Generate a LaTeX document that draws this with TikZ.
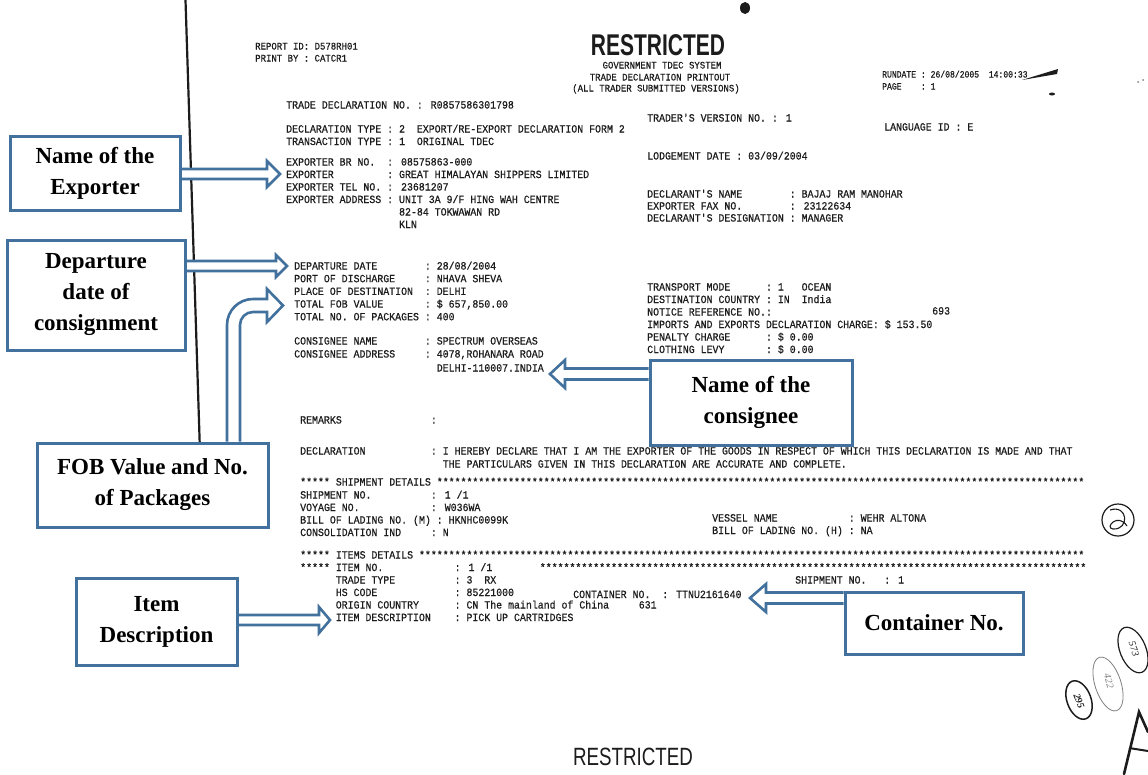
\documentclass[tikz,border=0pt]{standalone}
\usepackage{fontspec}
\setmainfont{Liberation Serif}
\newfontfamily\prtfont[FakeStretch=0.9,FakeBold=0.5]{Liberation Mono}
\newfontfamily\prtsmallfont[FakeStretch=0.85,FakeBold=0.5]{Liberation Mono}
\newfontfamily\hdrfont{Liberation Sans}
\usetikzlibrary{calc}
\definecolor{bluebox}{RGB}{65,113,156}
\definecolor{ink}{RGB}{28,28,28}
\def\tenstars{**********}
\newcommand\rarrow[5]{\draw[arr] let \p1=(#1), \p2=(#2) in ({\x1},{\y2+#5}) -- ({\x2-(#3)},{\y2+#5}) -- ({\x2-(#3)},{\y2+#4}) -- (\p2) -- ({\x2-(#3)},{\y2-#4}) -- ({\x2-(#3)},{\y2-#5}) -- ({\x1},{\y2-#5});}
\begin{document}
\begin{tikzpicture}[x=1pt,y=-1pt,
  prt/.style={anchor=west, inner sep=0pt, text height=7pt, text depth=2pt, font=\prtfont\fontsize{11}{12}\selectfont, text=ink},
  prtten/.style={prt, font=\prtfont\fontsize{10}{12}\selectfont},
  prtnine/.style={prt, font=\prtsmallfont\fontsize{9.5}{11}\selectfont},
  lbl/.style={draw=bluebox, line width=3pt, fill=white, align=center, text=black, font=\bfseries\fontsize{23}{31}\selectfont, inner sep=2pt},
  arr/.style={draw=bluebox, line width=2.6pt, fill=white, line join=miter, miter limit=10},
  hand/.style={inner sep=0pt, font=\itshape\fontsize{10}{10}\selectfont}]
\useasboundingbox (0,0) rectangle (1148,774);
\fill[white] (0,0) rectangle (1148,774);

% scanned page edge line
\draw[ink, line width=2.2pt] (185.5,0) -- (199.7,443);

% ---------- printout text ----------
\node[prtten] (rid) at (255,47) {REPORT ID: D578RH01};
\node[prtten] (pby) at (255,59) {PRINT BY : CATCR1};
\node[font=\hdrfont\bfseries\fontsize{30}{30}\selectfont, inner sep=0pt, text=ink] (rtop) at (658,45) {\scalebox{0.7}[1]{RESTRICTED}};
\node[prtten, anchor=center] (h1) at (662,66) {GOVERNMENT TDEC SYSTEM};
\node[prtten, anchor=center] (h2) at (660,78) {TRADE DECLARATION PRINTOUT};
\node[prtten, anchor=center] (h3) at (656,89) {(ALL TRADER SUBMITTED VERSIONS)};
\node[prtnine] (rd) at (882,75) {RUNDATE : 26/08/2005~~14:00:33};
\node[prtnine] (pg) at (882,87) {PAGE~~~~: 1};

\node[prt] (l1) at (286,106) {TRADE DECLARATION NO. : R0857586301798};
\node[prt] (l2) at (286,130) {DECLARATION TYPE : 2~~EXPORT/RE-EXPORT DECLARATION FORM 2};
\node[prt] (l3) at (286,142.5) {TRANSACTION TYPE : 1~~ORIGINAL TDEC};
\node[prt] (l4) at (286,163) {EXPORTER BR NO.~~: 08575863-000};
\node[prt] (l5) at (286,175.5) {EXPORTER~~~~~~~~~: GREAT HIMALAYAN SHIPPERS LIMITED};
\node[prt] (l6) at (286,188) {EXPORTER TEL NO. : 23681207};
\node[prt] (l7) at (286,200.5) {EXPORTER ADDRESS : UNIT 3A 9/F HING WAH CENTRE};
\node[prt] (l8) at (398.9,213) {82-84 TOKWAWAN RD};
\node[prt] (l9) at (398.9,225.5) {KLN};

\node[prt] (r1) at (647,119) {TRADER'S VERSION NO. : 1};
\node[prt] (r2) at (884,128) {LANGUAGE ID : E};
\node[prt] (r3) at (647,157) {LODGEMENT DATE : 03/09/2004};
\node[prt] (r4) at (647,195) {DECLARANT'S NAME~~~~~~~~: BAJAJ RAM MANOHAR};
\node[prt] (r5) at (647,207) {EXPORTER FAX NO.~~~~~~~~: 23122634};
\node[prt] (r6) at (647,219) {DECLARANT'S DESIGNATION : MANAGER};

\node[prt] (d1) at (294,267) {DEPARTURE DATE~~~~~~~~: 28/08/2004};
\node[prt] (d2) at (294,279.7) {PORT OF DISCHARGE~~~~~: NHAVA SHEVA};
\node[prt] (d3) at (294,292.4) {PLACE OF DESTINATION~~: DELHI};
\node[prt] (d4) at (294,305.1) {TOTAL FOB VALUE~~~~~~~: \$ 657,850.00};
\node[prt] (d5) at (294,317.8) {TOTAL NO. OF PACKAGES : 400};
\node[prt] (d6) at (294,342) {CONSIGNEE NAME~~~~~~~~: SPECTRUM OVERSEAS};
\node[prt] (d7) at (294,355) {CONSIGNEE ADDRESS~~~~~: 4078,ROHANARA ROAD};
\node[prt] (d8) at (436.6,369) {DELHI-110007.INDIA};

\node[prt] (m1) at (647,288) {TRANSPORT MODE~~~~~~: 1~~~OCEAN};
\node[prt] (m2) at (647,300.5) {DESTINATION COUNTRY : IN~~India};
\node[prt] (m3) at (647,313) {NOTICE REFERENCE NO.:};
\node[prt] (m4) at (932,312) {693};
\node[prt] (m5) at (647,325.5) {IMPORTS AND EXPORTS DECLARATION CHARGE: \$ 153.50};
\node[prt] (m6) at (647,338) {PENALTY CHARGE~~~~~~: \$ 0.00};
\node[prt] (m7) at (647,350.5) {CLOTHING LEVY~~~~~~~: \$ 0.00};

\node[prt] (k1) at (300,421) {REMARKS~~~~~~~~~~~~~~~:};
\node[prt] (k2) at (300,452) {DECLARATION~~~~~~~~~~~: I HEREBY DECLARE THAT I AM THE EXPORTER OF THE GOODS IN RESPECT OF WHICH THIS DECLARATION IS MADE AND THAT};
\node[prt] (k3) at (442.6,465) {THE PARTICULARS GIVEN IN THIS DECLARATION ARE ACCURATE AND COMPLETE.};

\node[prt] (s0) at (300,483) {***** SHIPMENT DETAILS \tenstars\tenstars\tenstars\tenstars\tenstars\tenstars\tenstars\tenstars\tenstars\tenstars*********};
\node[prt] (s1) at (300,496) {SHIPMENT NO.~~~~~~~~~~: 1 /1};
\node[prt] (s2) at (300,508.5) {VOYAGE NO.~~~~~~~~~~~~: W036WA};
\node[prt] (s3) at (300,521) {BILL OF LADING NO. (M) : HKNHC0099K};
\node[prt] (s4) at (300,533.5) {CONSOLIDATION IND~~~~~: N};
\node[prt] (s5) at (712,519) {VESSEL NAME~~~~~~~~~~~~: WEHR ALTONA};
\node[prt] (s6) at (712,531.5) {BILL OF LADING NO. (H) : NA};

\node[prt] (i0) at (300,556) {***** ITEMS DETAILS \tenstars\tenstars\tenstars\tenstars\tenstars\tenstars\tenstars\tenstars\tenstars\tenstars\tenstars**};
\node[prt] (i1) at (300,568.5) {***** ITEM NO.~~~~~~~~~~~~: 1 /1~~~~~~~~\tenstars\tenstars\tenstars\tenstars\tenstars\tenstars\tenstars\tenstars\tenstars**};
\node[prt] (i2) at (335.6,581) {TRADE TYPE~~~~~~~~~~: 3~~RX};
\node[prt] (i7) at (795,581) {SHIPMENT NO.~~~: 1};
\node[prt] (i3) at (335.6,593.5) {HS CODE~~~~~~~~~~~~~: 85221000};
\node[prt] (i4) at (573,595.5) {CONTAINER NO.~~: TTNU2161640};
\node[prt] (i5) at (335.6,606) {ORIGIN COUNTRY~~~~~~: CN The mainland of China~~~~~631};
\node[prt] (i6) at (335.6,618.5) {ITEM DESCRIPTION~~~~: PICK UP CARTRIDGES};

\node[font=\hdrfont\fontsize{25}{25}\selectfont, inner sep=0pt, text=ink] (rbot) at (633,757) {\scalebox{0.75}[1]{RESTRICTED}};

% ---------- arrow tips ----------
\coordinate (texp) at (280,174);
\coordinate (tdep) at (287,266);
\coordinate (titem) at (330,620);
\coordinate (tcons) at (550,374);
\coordinate (tcont) at (750,598);
\coordinate (tfob) at (283,305.5);

% ---------- label box anchors ----------
\path (95,173) node[lbl, minimum width=170pt, minimum height=74pt, draw=none, fill=none] (exp) {\phantom{Name of the}};
\path (96,295) node[lbl, minimum width=178pt, minimum height=110pt, draw=none, fill=none] (dep) {\phantom{consignment}};
\path (152.5,485) node[lbl, minimum width=231pt, minimum height=84pt, draw=none, fill=none] (fob) {\phantom{FOB Value and No.}};
\path (156.5,621.5) node[lbl, minimum width=161pt, minimum height=87pt, draw=none, fill=none] (item) {\phantom{Description}};
\path (751,402.5) node[lbl, minimum width=202pt, minimum height=85pt, draw=none, fill=none] (cons) {\phantom{Name of the}};
\path (934,623) node[lbl, minimum width=178pt, minimum height=62pt, draw=none, fill=none] (cont) {\phantom{Container No.}};

% ---------- hollow arrows ----------
\rarrow{exp.east}{texp}{13pt}{13pt}{5pt}
\rarrow{dep.east}{tdep}{11pt}{11pt}{5pt}
\rarrow{item.east}{titem}{11pt}{13pt}{5pt}
\rarrow{cons.west}{tcons}{-15pt}{14pt}{5.5pt}
\rarrow{cont.west}{tcont}{-16pt}{14pt}{5.5pt}
\draw[arr] let \p1=(fob.north), \p2=(tfob) in
  ({227pt},{\y1}) -- (227,325) arc[start angle=180, end angle=90, radius=26pt]
  -- (267,299) -- (267,289) -- (\p2) -- (267,322) -- (267,312) -- (253,312)
  arc[start angle=90, end angle=180, radius=13pt] -- ({240pt},{\y1});

% ---------- label boxes ----------
\node[lbl, minimum width=170pt, minimum height=74pt] (expb) at (exp) {Name of the\\Exporter};
\node[lbl, minimum width=178pt, minimum height=110pt] (depb) at (dep) {Departure\\date of\\consignment};
\node[lbl, minimum width=231pt, minimum height=84pt] (fobb) at (fob) {FOB Value and No.\\of Packages};
\node[lbl, minimum width=161pt, minimum height=87pt] (itemb) at (item) {Item\\Description};
\node[lbl, minimum width=202pt, minimum height=85pt] (consb) at (cons) {Name of the\\consignee};
\node[lbl, minimum width=178pt, minimum height=62pt] (contb) at (cont) {Container No.};

% ---------- pen marks on the scan ----------
\fill[ink] (745,8) ellipse[x radius=5pt, y radius=6pt];
\fill[ink] (1022,80) -- (1058,69) -- (1057,74) -- cycle;
\fill[ink] (1052,94) ellipse[x radius=3pt, y radius=1.5pt];
\fill[gray] (1138,82) circle[radius=1pt];
\fill[gray] (1143,80) circle[radius=1pt];
\draw[ink, line width=1.2pt] (1118,520) circle[radius=16pt];
\draw[ink, line width=1.1pt] (1110,510) .. controls (1128,504) and (1130,530) .. (1113,529)
  .. controls (1104,528) and (1118,512) .. (1127,526);
\draw[ink, line width=1.2pt, rotate around={-68:(1133,650)}] (1133,650) ellipse[x radius=24pt, y radius=13pt];
\node[hand, rotate=-72, text=ink] (n573) at (1134,649) {573};
\draw[gray, line width=0.8pt, rotate around={-72:(1108,684)}] (1108,684) ellipse[x radius=28pt, y radius=13pt];
\node[hand, rotate=-75, text=gray] (n422) at (1109,681) {422};
\draw[ink, line width=1.5pt, rotate around={-70:(1079,700)}] (1079,700) ellipse[x radius=20pt, y radius=12pt];
\node[hand, rotate=-70, text=ink, font=\itshape\bfseries\fontsize{10}{10}\selectfont] (n295) at (1079,701) {295};
\draw[ink, line width=2.6pt, line cap=round] (1124,774) -- (1139,712) -- (1148,732);
\draw[ink, line width=2pt] (1129,748) -- (1148,751);
\end{tikzpicture}
\end{document}
